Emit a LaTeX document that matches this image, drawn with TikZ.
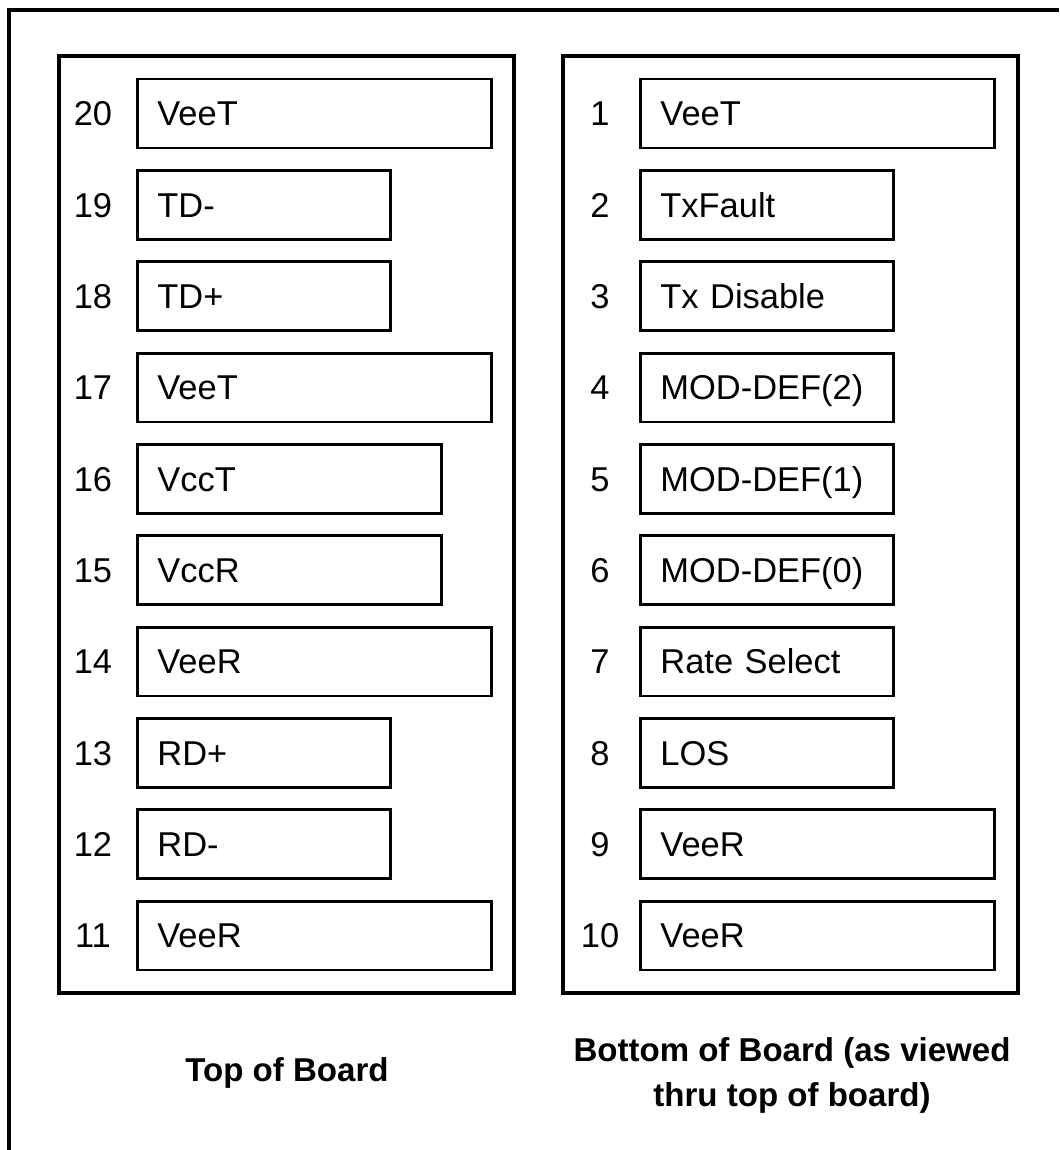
\documentclass[tikz,border=0pt]{standalone}
\usepackage{fontspec}
\setmainfont{Liberation Sans}

\begin{document}
\begin{tikzpicture}[x=0.025cm, y=-0.025cm,
  frame/.style={line width=2.2pt},
  pin/.style={draw, line width=2pt, anchor=west, minimum height=1.72cm, inner xsep=0.5cm, text height=20pt, text depth=2.5pt, align=left, font=\fontsize{24.5}{28}\selectfont},
  longpin/.style={pin, text width=7.85cm},
  midpin/.style={pin, text width=6.6cm},
  shortpin/.style={pin, text width=5.33cm},
  num/.style={text height=20pt, text depth=2.5pt, font=\fontsize{24.5}{28}\selectfont},
  caption/.style={align=center, font=\fontsize{23.5}{32}\selectfont\bfseries}
]
\useasboundingbox (0,0) rectangle (1059,1150);
\draw[frame] (9,1150) -- (9,10) -- (1059,10);

% top of board
\draw[frame] (59,56) rectangle (514,993);
\node[num] (n20) at (93,113.5) {20}; \node[longpin]  (p20) at (136,113.5) {VeeT};
\node[num] (n19) at (93,204.8) {19}; \node[shortpin] (p19) at (136,204.8) {TD-};
\node[num] (n18) at (93,296.2) {18}; \node[shortpin] (p18) at (136,296.2) {TD+};
\node[num] (n17) at (93,387.5) {17}; \node[longpin]  (p17) at (136,387.5) {VeeT};
\node[num] (n16) at (93,478.8) {16}; \node[midpin]   (p16) at (136,478.8) {VccT};
\node[num] (n15) at (93,570.2) {15}; \node[midpin]   (p15) at (136,570.2) {VccR};
\node[num] (n14) at (93,661.5) {14}; \node[longpin]  (p14) at (136,661.5) {VeeR};
\node[num] (n13) at (93,752.8) {13}; \node[shortpin] (p13) at (136,752.8) {RD+};
\node[num] (n12) at (93,844.2) {12}; \node[shortpin] (p12) at (136,844.2) {RD-};
\node[num] (n11) at (93,935.5) {11}; \node[longpin]  (p11) at (136,935.5) {VeeR};
\node[caption] (top) at (287,1073) {Top of Board};

% bottom of board
\draw[frame] (563,56) rectangle (1018,993);
\node[num] (n1)  at (600,113.5) {1};  \node[longpin]  (p1)  at (639,113.5) {VeeT};
\node[num] (n2)  at (600,204.8) {2};  \node[shortpin] (p2)  at (639,204.8) {TxFault};
\node[num] (n3)  at (600,296.2) {3};  \node[shortpin] (p3)  at (639,296.2) {Tx Disable};
\node[num] (n4)  at (600,387.5) {4};  \node[shortpin] (p4)  at (639,387.5) {MOD-DEF(2)};
\node[num] (n5)  at (600,478.8) {5};  \node[shortpin] (p5)  at (639,478.8) {MOD-DEF(1)};
\node[num] (n6)  at (600,570.2) {6};  \node[shortpin] (p6)  at (639,570.2) {MOD-DEF(0)};
\node[num] (n7)  at (600,661.5) {7};  \node[shortpin] (p7)  at (639,661.5) {Rate Select};
\node[num] (n8)  at (600,752.8) {8};  \node[shortpin] (p8)  at (639,752.8) {LOS};
\node[num] (n9)  at (600,844.2) {9};  \node[longpin]  (p9)  at (639,844.2) {VeeR};
\node[num] (n10) at (600,935.5) {10}; \node[longpin]  (p10) at (639,935.5) {VeeR};
\node[caption] (bottom) at (792,1075) {Bottom of Board (as viewed\\thru top of board)};
\end{tikzpicture}
\end{document}
